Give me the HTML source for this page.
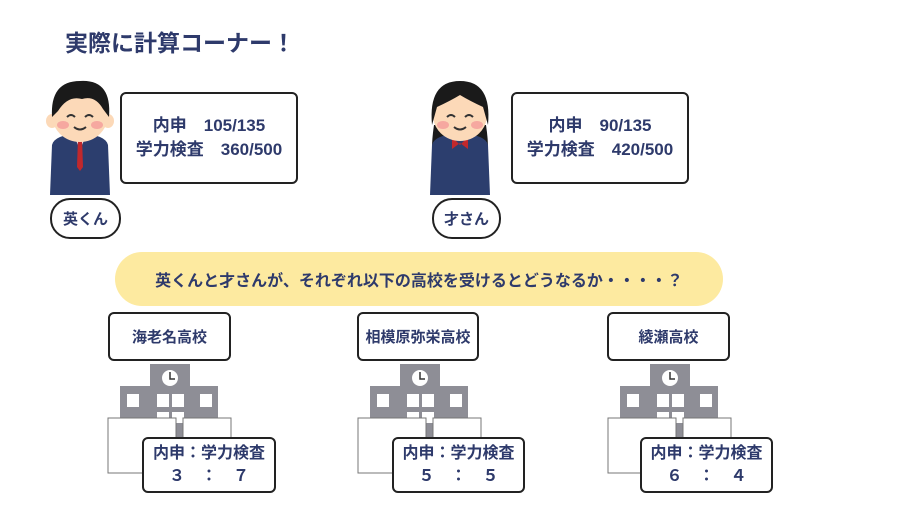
<!DOCTYPE html><html><head><meta charset="utf-8"><style>
body{margin:0;width:900px;height:506px;background:#fff;position:relative;overflow:hidden;font-family:"Liberation Sans","Noto Sans CJK JP",sans-serif;color:#2e3a6b;font-weight:bold}
.a{position:absolute;box-sizing:border-box}
.box{border:2px solid #222;border-radius:6px;background:#fff;display:flex;align-items:center;justify-content:center;text-align:center}
</style></head><body>
<div class="a" style="left:65px;top:24px;font-size:23px">実際に計算コーナー！</div>

<svg class="a" style="left:40px;top:75px" width="90" height="125">
<path d="M12 70 Q14 60 40 58 Q66 60 68 70 L70 120 L10 120Z" fill="#2c3e6e"/>
<path d="M33 58 L40 75 L47 58Z" fill="#fff"/><path d="M38 62 L42 62 L43 92 L40 96 L37 92Z" fill="#c0282c"/>
<ellipse cx="40" cy="40" rx="28" ry="27" fill="#fcd9b8"/>
<ellipse cx="12" cy="46" rx="6" ry="7" fill="#fcd9b8"/><ellipse cx="68" cy="46" rx="6" ry="7" fill="#fcd9b8"/>
<path d="M12 42 Q10 6 40 6 Q72 4 69 42 L63 34 Q55 20 42 24 Q28 20 18 36Z" fill="#1a1a1a"/>
<path d="M27 42 q4 -4 8 0 M45 42 q4 -4 8 0 M34 52 q6 5 12 0" stroke="#333" stroke-width="2" fill="none"/>
<ellipse cx="23" cy="50" rx="6" ry="4" fill="#f6a8a0"/><ellipse cx="57" cy="50" rx="6" ry="4" fill="#f6a8a0"/>
</svg>
<div class="a box" style="left:120px;top:92px;width:178px;height:92px;font-size:17px;line-height:24px">内申　105/135<br>学力検査　360/500</div>
<div class="a box" style="left:50px;top:198px;width:71px;height:41px;border-radius:20px;font-size:15px">英くん</div>

<svg class="a" style="left:420px;top:75px" width="90" height="125">
<path d="M14 50 Q8 90 20 100 L60 100 Q72 90 66 50Z" fill="#1a1a1a"/>
<path d="M12 70 Q14 60 40 58 Q66 60 68 70 L70 120 L10 120Z" fill="#2c3e6e"/>
<path d="M32 62 L40 70 L48 62 L48 74 L40 68 L32 74Z" fill="#c0282c"/>
<ellipse cx="40" cy="40" rx="27" ry="26" fill="#fcd9b8"/>
<path d="M12 50 Q8 6 40 6 Q72 6 68 50 L63 32 Q50 26 40 20 Q30 26 17 32Z" fill="#1a1a1a"/>
<path d="M27 42 q4 -4 8 0 M45 42 q4 -4 8 0 M34 52 q6 5 12 0" stroke="#333" stroke-width="2" fill="none"/>
<ellipse cx="23" cy="50" rx="6" ry="4" fill="#f6a8a0"/><ellipse cx="57" cy="50" rx="6" ry="4" fill="#f6a8a0"/>
</svg>
<div class="a box" style="left:511px;top:92px;width:178px;height:92px;font-size:17px;line-height:24px">内申　90/135<br>学力検査　420/500</div>
<div class="a box" style="left:432px;top:198px;width:69px;height:41px;border-radius:20px;font-size:15px">才さん</div>

<div class="a" style="left:115px;top:252px;width:608px;height:54px;border-radius:27px;background:#fdeaa0;display:flex;align-items:center;justify-content:center;font-size:16px">英くんと才さんが、それぞれ以下の高校を受けるとどうなるか・・・・？</div>

<div class="a box" style="left:108px;top:312px;width:123px;height:49px;font-size:15px">海老名高校</div>
<div class="a box" style="left:357px;top:312px;width:122px;height:49px;font-size:15px">相模原弥栄高校</div>
<div class="a box" style="left:607px;top:312px;width:123px;height:49px;font-size:15px">綾瀬高校</div>

<svg class="a" style="left:0;top:360px" width="900" height="120">
<g id="b">
<rect x="150" y="4" width="40" height="30" fill="#8e8e96"/>
<circle cx="170" cy="18" r="8" fill="#fff"/><path d="M170 12 V19 H175" stroke="#333" stroke-width="1.5" fill="none"/>
<rect x="120" y="26" width="98" height="84" fill="#8e8e96"/>
<g fill="#fff"><rect x="127" y="34" width="12" height="13"/><rect x="157" y="34" width="12" height="13"/><rect x="172" y="34" width="12" height="13"/><rect x="200" y="34" width="12" height="13"/>
<rect x="157" y="52" width="12" height="11"/><rect x="172" y="52" width="12" height="11"/></g>
<rect x="108" y="58" width="68" height="55" fill="#fff" stroke="#777"/>
<rect x="183" y="58" width="48" height="30" fill="#fff" stroke="#777"/>
</g>
<use href="#b" x="250"/><use href="#b" x="500"/>
</svg>

<div class="a box" style="left:142px;top:437px;width:134px;height:56px;font-size:16px;line-height:23px">内申：学力検査<br>３　：　７</div>
<div class="a box" style="left:392px;top:437px;width:133px;height:56px;font-size:16px;line-height:23px">内申：学力検査<br>５　：　５</div>
<div class="a box" style="left:640px;top:437px;width:133px;height:56px;font-size:16px;line-height:23px">内申：学力検査<br>６　：　４</div>
</body></html>
